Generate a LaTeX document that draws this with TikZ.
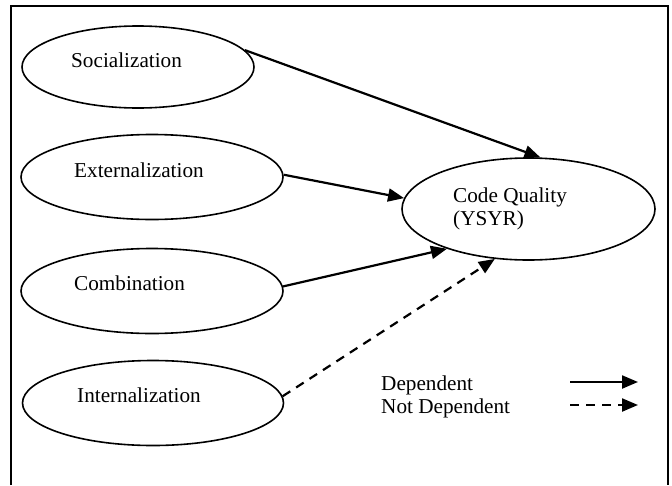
\documentclass[tikz,border=0pt]{standalone}
\usepackage{fontspec}
\setmainfont{Liberation Serif}
\usetikzlibrary{shapes.geometric,arrows.meta}
\begin{document}
\begin{tikzpicture}[x=1pt,y=-1pt,
  construct/.style={draw,line width=1.6pt,ellipse,inner sep=0pt},
  label/.style={anchor=base west,inner sep=0pt,font=\fontsize{21.2}{23}\selectfont},
  link/.style={line width=2.2pt,-{Triangle[length=16pt,width=13pt]}},
  weaklink/.style={link,dash pattern=on 9pt off 7pt}]
\useasboundingbox (0,0) rectangle (672,485);
% outer frame (open at the bottom)
\draw[line width=2pt] (11,485) -- (11,6) -- (668,6) -- (668,485);

% knowledge conversion modes
\node[construct,minimum width=232pt,minimum height=82pt] (soc) at (138,67) {};
\node[construct,minimum width=262pt,minimum height=85pt] (ext) at (152,177) {};
\node[construct,minimum width=262pt,minimum height=85pt] (com) at (152,291) {};
\node[construct,minimum width=261pt,minimum height=85pt] (int) at (153,403) {};
\node[label] (socl) at (71,67) {Socialization};
\node[label] (extl) at (74,177) {Externalization};
\node[label] (coml) at (74,290) {Combination};
\node[label] (intl) at (77,402) {Internalization};

% outcome
\node[construct,minimum width=253pt,minimum height=102pt] (cq) at (528.5,209) {};
\node[label] (cql1) at (453,202) {Code Quality};
\node[label] (cql2) at (453,225) {(YSYR)};

% relations
\draw[link] (soc.9) -- (cq.77);
\draw[link] (ext.1) -- (cq.175);
\draw[link] (com.2) -- (cq.206);
\draw[weaklink] (int.3) -- (cq.236);

% legend
\node[label] (dep) at (381,390) {Dependent};
\node[label] (ndep) at (381,413) {Not Dependent};
\coordinate (a1) at (570,382);
\coordinate (b1) at (638,382);
\coordinate (a2) at (570,405);
\coordinate (b2) at (638,405);
\draw[link] (a1) -- (b1);
\draw[weaklink] (a2) -- (b2);
\end{tikzpicture}
\end{document}
